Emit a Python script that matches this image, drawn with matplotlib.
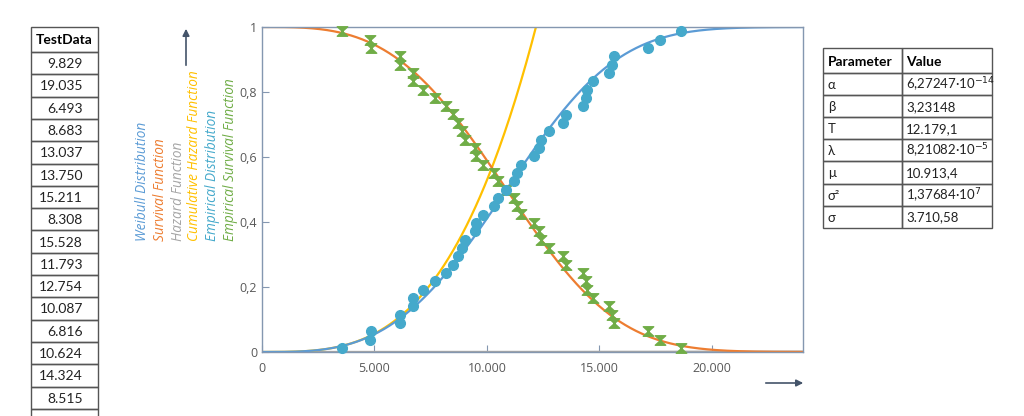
import numpy as np
import matplotlib
matplotlib.use("Agg")
import matplotlib.pyplot as plt
from matplotlib.path import Path
from matplotlib.patches import Rectangle

# ======= Weibull parameters (from the parameter table) =======
alpha = 6.27247e-14
beta = 3.23148

# ======= Failure times (sorted) =======
failure_times = [3556, 4780, 4830, 6120, 6150, 6700, 6720, 7156, 7689, 8178,
                 8489, 8711, 8889, 9022, 9467, 9511, 9829, 10311, 10489, 10844,
                 11200, 11333, 11511, 12089, 12311, 12400, 12754, 13378, 13511, 14267,
                 14420, 14460, 14711, 15422, 15570, 15644, 17156, 17689, 18622]

# ======= Table contents =======
test_data = ["9.829", "19.035", "6.493", "8.683", "13.037", "13.750", "15.211",
             "8.308", "15.528", "11.793", "12.754", "10.087", "6.816", "10.624",
             "14.324", "8.515", ""]
param_names = ["α", "β", "T", "λ", "μ", "σ²", "σ"]
param_values = [r"6,27247·10$^{-14}$", "3,23148", "12.179,1", r"8,21082·10$^{-5}$",
                "10.913,4", r"1,37684·10$^{7}$", "3.710,58"]

legend_labels = ["Weibull Distribution", "Survival Function", "Hazard Function",
                 "Cumulative Hazard Function", "Empirical Distribution",
                 "Empirical Survival Function"]
colors = ["#5B9BD5", "#ED7D31", "#A5A5A5", "#FFC000", "#45A9CB", "#70AD47"]

x_ticks = [0, 5000, 10000, 15000, 20000]
x_tick_labels = ["0", "5.000", "10.000", "15.000", "20.000"]
y_ticks = [0, 0.2, 0.4, 0.6, 0.8, 1]
y_tick_labels = ["0", "0,2", "0,4", "0,6", "0,8", "1"]

frame_col = "#8497B0"
text_col = "#595959"

fig = plt.figure(figsize=(10.24, 4.16), dpi=100)

# ======= Main chart =======
ax = fig.add_axes([262 / 1024, 1 - 352 / 416, 541 / 1024, 325 / 416])
x = np.linspace(0, 24000, 600)
cdf = 1 - np.exp(-alpha * x ** beta)
surv = 1 - cdf
hazard = alpha * beta * x ** (beta - 1)
cum_hazard = alpha * x ** beta

ax.plot(x, hazard, color=colors[2], lw=1.6, zorder=2)
ax.plot(x, cum_hazard, color=colors[3], lw=1.6, zorder=2)
ax.plot(x, cdf, color=colors[0], lw=1.6, zorder=2)
ax.plot(x, surv, color=colors[1], lw=1.6, zorder=2)

n = len(failure_times)
ft = np.array(failure_times)
emp_f = (np.arange(1, n + 1) - 0.5) / n
hourglass = Path([(-1.1, 1), (1.1, 1), (0, 0), (-1.1, -1), (1.1, -1), (0, 0), (-1.1, 1)],
                 [Path.MOVETO, Path.LINETO, Path.LINETO, Path.LINETO,
                  Path.LINETO, Path.LINETO, Path.CLOSEPOLY])
ax.plot(ft, 1 - emp_f, ls="none", marker=hourglass, ms=7.5, color=colors[5],
        mec=colors[5], zorder=3, clip_on=False)
ax.plot(ft, emp_f, ls="none", marker="o", ms=7, color=colors[4], zorder=4,
        clip_on=False)

ax.set_xlim(0, 24050)
ax.set_ylim(0, 1)
ax.set_xticks(x_ticks)
ax.set_xticklabels(x_tick_labels)
ax.set_yticks(y_ticks)
ax.set_yticklabels(y_tick_labels)
for sp in ax.spines.values():
    sp.set_color(frame_col)
    sp.set_linewidth(1.0)
ax.tick_params(direction="in", length=5, color=frame_col, labelcolor=text_col,
               labelsize=9)
ax.tick_params(axis="x", pad=7)
for lab in ax.get_xticklabels() + ax.get_yticklabels():
    lab.set_family("Open Sans")

# ======= Overlay in pixel coords for legend, arrows and tables =======
ov = fig.add_axes([0, 0, 1, 1], zorder=-1)
ov.set_xlim(0, 1024)
ov.set_ylim(416, 0)
ov.axis("off")

legend_x = [143, 160, 178, 195, 213, 230]
for lx, lab, c in zip(legend_x, legend_labels, colors):
    ov.text(lx, 241, lab, rotation=90, ha="center", va="bottom", color=c,
            fontsize=9.8, style="italic", family="Open Sans")

ov.annotate("", xy=(186, 26), xytext=(186, 68),
            arrowprops=dict(arrowstyle="-|>", color="#44546A", lw=1.2,
                            mutation_scale=10))
ov.annotate("", xy=(806, 383), xytext=(763, 383),
            arrowprops=dict(arrowstyle="-|>", color="#44546A", lw=1.2,
                            mutation_scale=10))

tbl_font = ["Lato", "DejaVu Sans"]
edge = "#555555"

# left table
row_h = 22.3
top = 27
ov.add_patch(Rectangle((31, top), 67, 25, fill=False, ec=edge, lw=1))
ov.text(64.5, top + 13, "TestData", ha="center", va="center", fontsize=10,
        weight="bold", family=tbl_font, color="black")
y0 = top + 25
for i, v in enumerate(test_data):
    ov.add_patch(Rectangle((31, y0 + i * row_h), 67, row_h, fill=False,
                           ec=edge, lw=1, clip_on=False))
    ov.text(83, y0 + i * row_h + row_h / 2 + 1, v, ha="right", va="center",
            fontsize=10, family=tbl_font, color="#222222")

# right table
t_left, t_mid, t_right = 823, 902, 992
t_top = 48
hdr_h = 25
prow_h = 22.1
ov.add_patch(Rectangle((t_left, t_top), t_mid - t_left, hdr_h, fill=False, ec=edge, lw=1))
ov.add_patch(Rectangle((t_mid, t_top), t_right - t_mid, hdr_h, fill=False, ec=edge, lw=1))
ov.text(t_left + 5, t_top + hdr_h / 2 + 1, "Parameter", ha="left", va="center",
        fontsize=10, weight="bold", family=tbl_font)
ov.text(t_mid + 4, t_top + hdr_h / 2 + 1, "Value", ha="left", va="center",
        fontsize=10, weight="bold", family=tbl_font)
for i, (nm, val) in enumerate(zip(param_names, param_values)):
    yy = t_top + hdr_h + i * prow_h
    ov.add_patch(Rectangle((t_left, yy), t_mid - t_left, prow_h, fill=False, ec=edge, lw=1))
    ov.add_patch(Rectangle((t_mid, yy), t_right - t_mid, prow_h, fill=False, ec=edge, lw=1))
    ov.text(t_left + 5, yy + prow_h / 2 + 1, nm, ha="left", va="center",
            fontsize=9.5, family=tbl_font, color="#222222")
    ov.text(t_mid + 4, yy + prow_h / 2 + 1, val, ha="left", va="center",
            fontsize=9.5, family=tbl_font, color="#222222")

fig.savefig("out.png", dpi=100)
